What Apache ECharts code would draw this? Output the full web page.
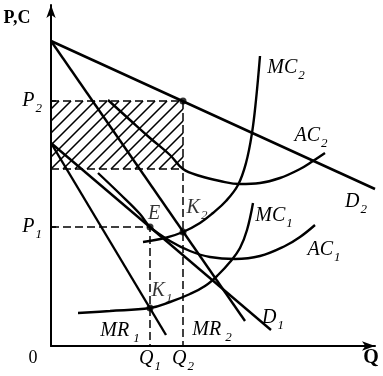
<!DOCTYPE html>
<html>
<head>
<meta charset="utf-8">
<script src="https://cdn.jsdelivr.net/npm/echarts@6.0.0/dist/echarts.min.js"></script>
<style>
html,body{margin:0;padding:0;background:#fff;}
#chart1{width:383px;height:376px;}
</style>
</head>
<body>
<div id="chart1"></div>
<script>
// values (x = quantity Q, y = price / cost)
const Q1 = 99, Q2 = 132;
const P1 = 119, P2 = 245;
const ac2AtQ2 = 177;
const kOne = [Q1, 38];
const kTwo = [Q2, 114];

const d2 = [[0, 305], [324, 157]];
const mr2 = [[0, 305], [194, 25]];
const d1 = [[0, 203], [220, 16]];
const mr1 = [[0, 203], [115, 11]];
const mc1 = [[27, 33], [59, 35], [99, 38], [119, 44], [139, 52], [154, 60], [167, 71], [179, 84], [189, 98], [196, 116], [202, 143]];
const mc2 = [[92, 104], [114, 108], [132, 114], [149, 123], [162, 133], [175, 145], [187, 161], [195, 183], [201, 213], [205, 246], [209, 290]];
const ac1 = [[47, 173], [69, 152], [89, 132], [99, 119], [119, 105], [139, 95], [159, 89], [184, 87], [209, 90], [234, 100], [249, 109], [264, 121]];
const ac2 = [[57, 246], [79, 226], [99, 208], [119, 191], [132, 177], [149, 170], [169, 165], [189, 162], [209, 163], [229, 168], [249, 177], [262, 185], [274, 193]];

const FONT = 'Liberation Serif';

const rich = {
    b: { fontFamily: FONT, fontStyle: 'italic', fontSize: 20, color: '#000', lineHeight: 20, verticalAlign: 'top' },
    s: { fontFamily: FONT, fontStyle: 'italic', fontSize: 13, color: '#000', lineHeight: 13, verticalAlign: 'top', padding: [11, 0, 0, 1] },
    sp: { fontFamily: FONT, fontStyle: 'italic', fontSize: 13, color: '#000', lineHeight: 13, verticalAlign: 'top', padding: [11, 0, 0, 4] },
    o: { fontFamily: FONT, fontSize: 18, color: '#000', padding: [0, 36, 0, 0] }
};
function sub(main, s, wide) {
    return '{b|' + main + '}{' + (wide ? 'sp' : 's') + '|' + s + '}';
}

// a black curve with its name written near its last point
function curve(data, smooth, width, text, offset) {
    return {
        type: 'line',
        data: data,
        smooth: smooth,
        showSymbol: false,
        silent: true,
        lineStyle: { color: '#000', width: width },
        markPoint: {
            symbol: 'circle',
            symbolSize: 1,
            itemStyle: { color: 'rgba(0,0,0,0)' },
            data: [{ coord: data[data.length - 1] }],
            label: { show: true, position: 'inside', formatter: text, offset: offset, rich: rich }
        }
    };
}

function dashed(data) {
    return {
        type: 'line',
        data: data,
        showSymbol: false,
        silent: true,
        lineStyle: { color: '#000', width: 1.5, type: [8, 4] }
    };
}

echart1 = echarts.init(document.getElementById('chart1'));

option = {
    animation: false,
    backgroundColor: '#fff',
    textStyle: { fontFamily: FONT },
    grid: { left: 51, right: 8, top: 5, bottom: 30 },
    xAxis: {
        type: 'value',
        min: 0,
        max: 324,
        name: 'Q',
        nameLocation: 'end',
        nameGap: -4,
        nameTextStyle: { fontFamily: FONT, fontWeight: 'bold', fontSize: 20, color: '#000', align: 'center', verticalAlign: 'top', padding: [2, 0, 0, 0] },
        splitLine: { show: false },
        axisLine: { onZero: false, symbol: ['none', 'arrow'], symbolSize: [7, 13], lineStyle: { color: '#000', width: 2 } },
        axisTick: { show: false },
        axisLabel: {
            customValues: [0, Q1, Q2],
            margin: 3,
            formatter: function (v) {
                if (v === 0) return '{o|0}';
                return sub('Q', v === Q1 ? '1' : '2');
            },
            rich: rich
        }
    },
    yAxis: {
        type: 'value',
        min: 0,
        max: 341,
        name: 'P,C',
        nameLocation: 'end',
        nameGap: -22,
        nameTextStyle: { fontFamily: FONT, fontWeight: 'bold', fontSize: 18, color: '#000', padding: [0, 68, 0, 0] },
        splitLine: { show: false },
        axisLine: { onZero: false, symbol: ['none', 'arrow'], symbolSize: [7, 13], lineStyle: { color: '#000', width: 2 } },
        axisTick: { show: true, inside: true, length: 5, customValues: [P1, P2], lineStyle: { color: '#000', width: 1.5 } },
        axisLabel: {
            customValues: [P1, P2],
            margin: 9,
            formatter: function (v) { return sub('P', v === P1 ? '1' : '2'); },
            rich: rich
        }
    },
    series: [
        // shaded profit area between P2 and AC2 at Q2
        {
            type: 'custom',
            silent: true,
            encode: { x: [0, 2], y: [1, 3] },
            data: [[0, P2, Q2, ac2AtQ2]],
            renderItem: function (params, api) {
                const tl = api.coord([api.value(0), api.value(1)]);
                const br = api.coord([api.value(2), api.value(3)]);
                const x0 = tl[0], y0 = tl[1], x1 = br[0], y1 = br[1];
                const lines = [];
                for (let c = x0 + y0 + 8; c < x1 + y1; c += 12) {
                    const ya = Math.max(y0, c - x1), yb = Math.min(y1, c - x0);
                    if (yb <= ya) continue;
                    lines.push({ type: 'line', shape: { x1: c - ya, y1: ya, x2: c - yb, y2: yb }, style: { stroke: '#000', lineWidth: 1.6 } });
                }
                return { type: 'group', children: lines };
            }
        },
        dashed([[0, P2], [Q2, P2], [Q2, 0]]),
        dashed([[0, ac2AtQ2], [Q2, ac2AtQ2]]),
        dashed([[0, P1], [Q1, P1], [Q1, 0]]),
        curve(d2, false, 2.5, sub('D', '2'), [-19, 13]),
        curve(mr2, false, 2.4, sub('MR', '2', true), [-33, 9]),
        curve(d1, false, 2.4, sub('D', '1'), [2, -12]),
        curve(mr1, false, 2.4, sub('MR', '1', true), [-46, -4]),
        curve(mc1, 0.4, 2.4, sub('MC', '1'), [21, 13]),
        curve(mc2, 0.4, 2.4, sub('MC', '2'), [26, 12]),
        curve(ac1, 0.4, 2.4, sub('AC', '1'), [9, 25]),
        curve(ac2, 0.4, 2.4, sub('AC', '2'), [-14, -17]),
        {
            type: 'scatter',
            silent: true,
            symbolSize: 7,
            itemStyle: { color: '#000' },
            label: { show: true, position: 'inside', rich: rich, formatter: function (p) { return p.name; } },
            data: [
                { name: '{b|E}', value: [Q1, P1], label: { offset: [4, -13] } },
                { name: sub('K', '1'), value: kOne, label: { offset: [12, -17] } },
                { name: sub('K', '2'), value: kTwo, label: { offset: [14, -24] } },
                { name: '', value: [Q2, P2] }
            ]
        }
    ]
};

echart1.setOption(option);
</script>
</body>
</html>
